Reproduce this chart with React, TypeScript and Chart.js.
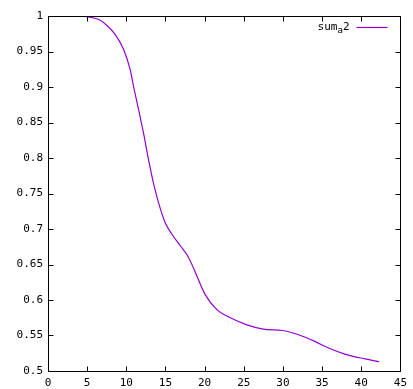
import React, { useEffect, useRef } from "react";
import { Chart, registerables } from "chart.js";

Chart.register(...registerables);

const xValues = [4, 5, 6.5, 7.5, 8.64, 9.69, 10.5, 10.94, 11.57, 12.2, 12.83, 13.46, 14.3, 15.0, 15.8, 17, 17.9, 18.7, 20, 21.6, 22.9, 25.4, 27.5, 30.0, 32.5, 34.2, 35.9, 38, 40.5, 42.3];
const yValues = [1.0, 0.999, 0.995, 0.987, 0.973, 0.952, 0.924, 0.9, 0.868, 0.835, 0.798, 0.765, 0.73, 0.708, 0.693, 0.675, 0.661, 0.642, 0.609, 0.586, 0.577, 0.565, 0.559, 0.557, 0.549, 0.541, 0.532, 0.5235, 0.517, 0.513];
const xTicks = [0, 5, 10, 15, 20, 25, 30, 35, 40, 45];
const yTicks = [0.5, 0.55, 0.6, 0.65, 0.7, 0.75, 0.8, 0.85, 0.9, 0.95, 1];
const seriesName = { base: "sum", sub: "a", tail: "2" };

const LINE_COLOR = "#9400D3";
const FAMILY = "DejaVu Sans Mono";
const FONT = `11px '${FAMILY}'`;

const framePlugin = {
  id: "frame",
  afterDraw(chart: any) {
    const { ctx, chartArea } = chart;
    const { left, right, top, bottom } = chartArea;
    const xs = chart.scales.x;
    const ys = chart.scales.y;
    ctx.save();
    ctx.strokeStyle = "#000";
    ctx.lineWidth = 1;
    const L = Math.round(left) + 0.5;
    const R = Math.round(right) + 0.5;
    const T = Math.round(top) + 0.5;
    const B = Math.round(bottom) + 0.5;
    ctx.beginPath();
    ctx.rect(L, T, R - L, B - T);
    const tl = 5;
    xTicks.forEach((v) => {
      const px = Math.round(xs.getPixelForValue(v)) + 0.5;
      ctx.moveTo(px, B);
      ctx.lineTo(px, B - tl);
      ctx.moveTo(px, T);
      ctx.lineTo(px, T + tl);
    });
    yTicks.forEach((v) => {
      const py = Math.round(ys.getPixelForValue(v)) + 0.5;
      ctx.moveTo(L, py);
      ctx.lineTo(L + tl, py);
      ctx.moveTo(R, py);
      ctx.lineTo(R - tl, py);
    });
    ctx.stroke();

    // legend
    const lineX1 = R - 44;
    const lineX2 = R - 13;
    const ly = Math.round(top) + 11.5;
    ctx.strokeStyle = LINE_COLOR;
    ctx.lineWidth = 1.2;
    ctx.beginPath();
    ctx.moveTo(lineX1, ly);
    ctx.lineTo(lineX2, ly);
    ctx.stroke();
    ctx.fillStyle = "#000";
    ctx.textBaseline = "middle";
    ctx.textAlign = "left";
    ctx.font = FONT;
    const smallFont = `9px '${FAMILY}'`;
    const wBase = ctx.measureText(seriesName.base).width;
    const wTail = ctx.measureText(seriesName.tail).width;
    ctx.font = smallFont;
    const wSub = ctx.measureText(seriesName.sub).width;
    const total = wBase + wSub + wTail;
    let x = lineX1 - 7 - total;
    ctx.font = FONT;
    ctx.fillText(seriesName.base, x, ly);
    x += wBase;
    ctx.font = smallFont;
    ctx.fillText(seriesName.sub, x, ly + 3);
    x += wSub;
    ctx.font = FONT;
    ctx.fillText(seriesName.tail, x, ly);
    ctx.restore();
  },
};

export default function App() {
  const ref = useRef<HTMLCanvasElement | null>(null);
  useEffect(() => {
    if (!ref.current) return;
    const chart = new Chart(ref.current, {
      type: "line",
      data: {
        datasets: [
          {
            label: "sum_a2",
            data: xValues.map((x, i) => ({ x, y: yValues[i] })),
            borderColor: LINE_COLOR,
            borderWidth: 1.2,
            pointRadius: 0,
            cubicInterpolationMode: "monotone",
            fill: false,
          },
        ],
      },
      options: {
        animation: false,
        responsive: false,
        maintainAspectRatio: false,
        layout: { padding: { top: 16, right: 7, left: 0, bottom: 0 } },
        plugins: { legend: { display: false }, tooltip: { enabled: false } },
        scales: {
          x: {
            type: "linear",
            min: 0,
            max: 45,
            grid: { display: false, drawTicks: false },
            border: { display: false },
            afterBuildTicks: (s: any) => {
              s.ticks = xTicks.map((v) => ({ value: v }));
            },
            afterFit: (s: any) => {
              s.height = 18;
            },
            ticks: {
              color: "#000",
              font: { family: FAMILY, size: 11 },
              padding: 6,
              maxRotation: 0,
              autoSkip: false,
              callback: (v: any) => String(v),
            },
          },
          y: {
            type: "linear",
            min: 0.5,
            max: 1,
            grid: { display: false, drawTicks: false },
            border: { display: false },
            afterBuildTicks: (s: any) => {
              s.ticks = yTicks.map((v) => ({ value: v }));
            },
            afterFit: (s: any) => {
              s.width = 48;
            },
            ticks: {
              color: "#000",
              font: { family: FAMILY, size: 11 },
              padding: 5,
              autoSkip: false,
              callback: (v: any) => String(Math.round(Number(v) * 100) / 100),
            },
          },
        },
      },
      plugins: [framePlugin],
    });
    return () => chart.destroy();
  }, []);
  return (
    <div style={{ position: "fixed", left: 0, top: 0, width: 413, height: 389, background: "#fff" }}>
      <canvas ref={ref} width={413} height={389} style={{ width: 413, height: 389 }} />
    </div>
  );
}
